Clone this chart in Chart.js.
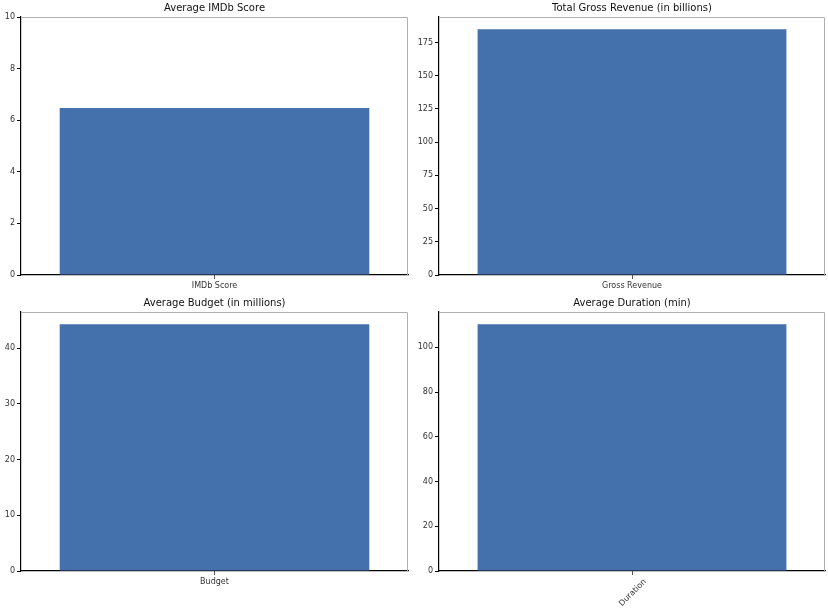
<!DOCTYPE html>
<html>
<head>
<meta charset="utf-8">
<script src="https://cdn.jsdelivr.net/npm/chart.js@4/dist/chart.umd.min.js"></script>
<style>
  html, body { margin: 0; padding: 0; background: #fff; }
  body { width: 828px; height: 613px; position: relative; overflow: hidden; }
  .panel { position: absolute; }
</style>
</head>
<body>
<div class="panel" id="p0" style="left:0px;top:0px;width:414px;height:295px;"><canvas id="c0"></canvas></div>
<div class="panel" id="p1" style="left:414px;top:0px;width:414px;height:295px;"><canvas id="c1"></canvas></div>
<div class="panel" id="p2" style="left:0px;top:295px;width:414px;height:318px;"><canvas id="c2"></canvas></div>
<div class="panel" id="p3" style="left:414px;top:295px;width:414px;height:318px;"><canvas id="c3"></canvas></div>
<script>
// ---- data ----
const titles = ['Average IMDb Score', 'Total Gross Revenue (in billions)', 'Average Budget (in millions)', 'Average Duration (min)'];
const categories = ['IMDb Score', 'Gross Revenue', 'Budget', 'Duration'];
const values = [6.47, 185.0, 44.3, 110.3];
const tickSteps = [2, 25, 10, 20];
const fixedMax = [10, null, null, null];
const labelRotation = [0, 0, 0, 45];

// ---- layout (pixels) ----
const yAxisWidth = [21, 25, 21, 25];
const xAxisHeight = [20, 20, 42, 42];
const padRight = [6, 3, 6, 3];
const titleBand = 17;

const frame = {
  id: 'frame',
  afterDraw(chart, args, opts) {
    const a = chart.chartArea, ctx = chart.ctx;
    ctx.save();
    ctx.strokeStyle = '#b0b0b0';
    ctx.lineWidth = 1;
    ctx.beginPath();
    ctx.moveTo(a.left, a.top + 0.5);
    ctx.lineTo(a.right - 0.5, a.top + 0.5);
    ctx.lineTo(a.right - 0.5, a.bottom);
    ctx.stroke();
    // axes title, centred over the plot area
    ctx.fillStyle = '#111';
    ctx.font = "10px 'DejaVu Sans', sans-serif";
    ctx.textAlign = 'center';
    ctx.textBaseline = 'middle';
    ctx.fillText(opts.text, (a.left + a.right) / 2, 8);
    ctx.restore();
  }
};

Chart.defaults.font.family = "'DejaVu Sans', sans-serif";
Chart.defaults.color = '#333';

for (let i = 0; i < 4; i++) {
  const maxV = fixedMax[i] !== null ? fixedMax[i] : values[i] * 1.05;
  new Chart(document.getElementById('c' + i), {
    type: 'bar',
    data: {
      labels: [categories[i]],
      datasets: [{
        data: [values[i]],
        backgroundColor: '#4470ab',
        borderWidth: 0,
        barPercentage: 0.8,
        categoryPercentage: 1.0
      }]
    },
    options: {
      responsive: true,
      maintainAspectRatio: false,
      animation: false,
      layout: { padding: { left: 0, right: padRight[i], top: titleBand, bottom: 0 } },
      plugins: {
        legend: { display: false },
        tooltip: { enabled: false },
        title: { display: false },
        frame: { text: titles[i] }
      },
      scales: {
        x: {
          offset: true,
          grid: { display: true, drawOnChartArea: false, drawTicks: true, tickLength: 4, tickColor: '#555', offset: false },
          border: { display: true, color: '#000', width: 1.2 },
          ticks: {
            font: { size: 8 },
            color: '#333',
            padding: 2,
            maxRotation: labelRotation[i],
            minRotation: labelRotation[i],
            labelOffset: labelRotation[i] ? 13 : 0
          },
          afterFit(s) { s.height = xAxisHeight[i]; }
        },
        y: {
          min: 0,
          max: maxV,
          grid: { display: true, drawOnChartArea: false, drawTicks: true, tickLength: 4, tickColor: '#000' },
          border: { display: true, color: '#000', width: 1.2 },
          ticks: { stepSize: tickSteps[i], includeBounds: false, font: { size: 8 }, color: '#333', padding: 2 },
          afterFit(s) { s.width = yAxisWidth[i]; }
        }
      }
    },
    plugins: [frame]
  });
}
</script>
</body>
</html>
